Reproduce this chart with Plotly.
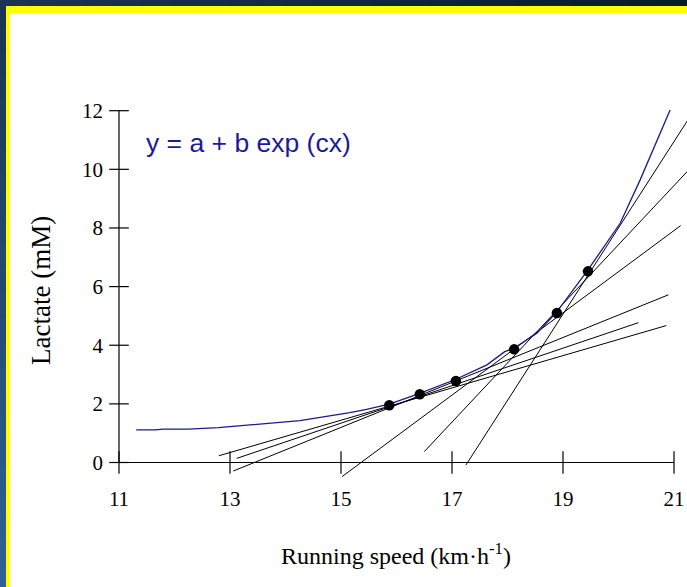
import plotly.graph_objects as go

# ---------------- data ----------------
curve_x = [11.31, 11.65, 11.80, 12.25, 12.79, 13.36, 14.26, 15.16, 15.46, 15.87, 16.42,
           17.07, 17.63, 17.95, 18.12, 18.53, 18.89, 19.45, 20.03, 20.39, 20.93]
curve_y = [1.11, 1.11, 1.14, 1.14, 1.19, 1.28, 1.43, 1.70, 1.81, 1.99, 2.36,
           2.84, 3.33, 3.78, 3.90, 4.41, 5.14, 6.57, 8.16, 9.64, 12.02]

dot_x = [15.87, 16.42, 17.07, 18.12, 18.89, 19.45]
dot_y = [1.95, 2.33, 2.78, 3.86, 5.10, 6.52]

# tangent line endpoints
tan_x0 = [12.80, 13.12, 13.06, 15.02, 16.50, 17.25]
tan_y0 = [0.23, 0.14, -0.29, -0.48, 0.37, -0.09]
tan_x1 = [20.86, 20.36, 20.90, 21.12, 21.30, 21.30]
tan_y1 = [4.67, 4.77, 5.72, 8.08, 10.05, 11.83]

x_ticks = [11, 13, 15, 17, 19, 21]
y_ticks = [0, 2, 4, 6, 8, 10, 12]

equation = "y = a + b exp (cx)"
x_title = "Running speed (km·h<sup>-1</sup>)"
y_title = "Lactate (mM)"

# ---------------- layout geometry ----------------
W, H = 687, 587
L, R, T, B = 97, 0, 100, 105
PW, PH = W - L - R, H - T - B
XPX, YPX = 55.5, 29.317          # pixels per unit
x0px, y0px = 119, 462.5           # pixel of x=11 and y=0
xmin = 11 - (x0px - L) / XPX
xmax = xmin + PW / XPX
ymin = -((T + PH) - y0px) / YPX
ymax = ymin + PH / YPX


def px(xp):
    return (xp - L) / PW


def py(yp):
    return (T + PH - yp) / PH


fig = go.Figure()

for a, b, c, d in zip(tan_x0, tan_x1, tan_y0, tan_y1):
    fig.add_trace(go.Scatter(x=[a, b], y=[c, d], mode="lines",
                             line=dict(color="black", width=1), hoverinfo="skip"))

fig.add_trace(go.Scatter(x=curve_x, y=curve_y, mode="lines",
                         line=dict(color="#1a1a8c", width=1.3)))

fig.add_trace(go.Scatter(x=dot_x, y=dot_y, mode="markers",
                         marker=dict(color="black", size=10.5)))

# tick marks crossing the axes
fig.add_trace(go.Scatter(x=x_ticks, y=[0] * len(x_ticks), mode="markers",
                         marker=dict(symbol="line-ns", size=16,
                                     line=dict(color="black", width=1.2)),
                         hoverinfo="skip"))
fig.add_trace(go.Scatter(x=[11] * len(y_ticks), y=y_ticks, mode="markers",
                         marker=dict(symbol="line-ew", size=14,
                                     line=dict(color="black", width=1.2)),
                         hoverinfo="skip"))

shapes = []
# gradient navy background
c_tl = (26, 52, 82)
c_tr = (11, 25, 41)
c_bl = (47, 98, 152)


def col(xp, yp):
    fx, fy = xp / W, yp / H
    return "rgb(%d,%d,%d)" % tuple(
        int(c_tl[i] + (c_tr[i] - c_tl[i]) * fx + (c_bl[i] - c_tl[i]) * fy) for i in range(3))


n = 24
for i in range(n):
    xa, xb = W * i / n, W * (i + 1) / n
    shapes.append(dict(type="rect", xref="paper", yref="paper", layer="below",
                       x0=px(xa), x1=px(xb + 1), y0=py(-2), y1=py(8),
                       fillcolor=col((xa + xb) / 2, 3), line=dict(width=0)))
    ya, yb = H * i / n, H * (i + 1) / n
    shapes.append(dict(type="rect", xref="paper", yref="paper", layer="below",
                       x0=px(-2), x1=px(8), y0=py(ya), y1=py(yb + 1),
                       fillcolor=col(3, (ya + yb) / 2), line=dict(width=0)))
shapes.append(dict(type="rect", xref="paper", yref="paper", layer="below",
                   x0=px(6), x1=px(W + 5), y0=py(6), y1=py(H + 5),
                   fillcolor="#ffff00", line=dict(width=0)))
shapes.append(dict(type="rect", xref="paper", yref="paper", layer="below",
                   x0=px(10), x1=px(W + 5), y0=py(13), y1=py(H + 5),
                   fillcolor="white", line=dict(width=0)))
# axis lines
shapes.append(dict(type="line", xref="x", yref="y", x0=x_ticks[0], x1=x_ticks[-1], y0=0, y1=0,
                   line=dict(color="black", width=1.2)))
shapes.append(dict(type="line", xref="x", yref="y", x0=11, x1=11, y0=y_ticks[0], y1=y_ticks[-1],
                   line=dict(color="black", width=1.2)))

serif = "Liberation Serif, Times New Roman, serif"

fig.update_layout(
    width=W, height=H,
    margin=dict(l=L, r=R, t=T, b=B, pad=0),
    paper_bgcolor="#1b3553",
    plot_bgcolor="rgba(0,0,0,0)",
    showlegend=False,
    shapes=shapes,
    xaxis=dict(range=[xmin, xmax], anchor="free", position=(0 - ymin) / (ymax - ymin),
               tickvals=x_ticks, ticks="", showgrid=False, zeroline=False, showline=False,
               tickfont=dict(family=serif, size=21, color="black"),
               ticklabelstandoff=21, fixedrange=True),
    yaxis=dict(range=[ymin, ymax], anchor="free", position=(11 - xmin) / (xmax - xmin),
               tickvals=y_ticks, ticks="", showgrid=False, zeroline=False, showline=False,
               tickfont=dict(family=serif, size=21, color="black"),
               ticklabelstandoff=16, fixedrange=True),
    annotations=[
        dict(text=equation, x=11.45, y=10.9, xref="x", yref="y", xanchor="left",
             yanchor="middle", showarrow=False,
             font=dict(family="Liberation Sans, Arial, sans-serif", size=26.5, color="#1a1a9a")),
        dict(text=x_title, x=px(396), y=py(554), xref="paper", yref="paper",
             xanchor="center", yanchor="middle", showarrow=False,
             font=dict(family=serif, size=24, color="black")),
        dict(text=y_title, x=px(41), y=py(291), xref="paper", yref="paper",
             xanchor="center", yanchor="middle", showarrow=False, textangle=-90,
             font=dict(family=serif, size=27, color="black")),
    ],
)

fig.write_html("out.html", config={"displayModeBar": False},
               post_script="document.body.style.margin='0';document.body.style.overflow='hidden';")
